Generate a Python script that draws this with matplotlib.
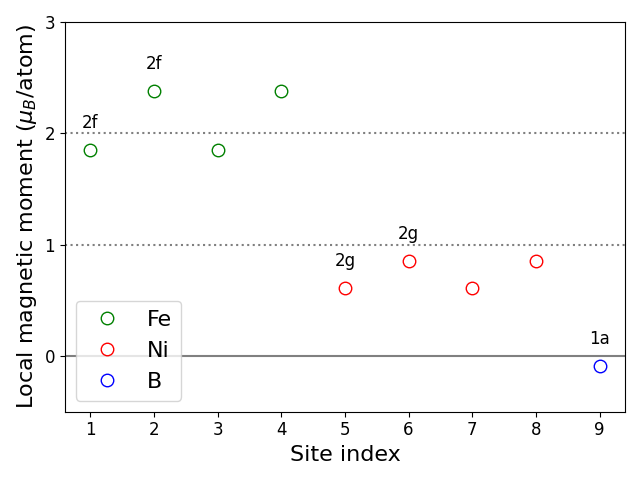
import matplotlib
matplotlib.use("Agg")
import matplotlib.pyplot as plt

fe_x = [1, 2, 3, 4]
fe_y = [1.85, 2.38, 1.85, 2.38]
ni_x = [5, 6, 7, 8]
ni_y = [0.61, 0.85, 0.61, 0.85]
b_x = [9]
b_y = [-0.09]
labels = [(1, 1.85, "2f"), (2, 2.38, "2f"), (5, 0.61, "2g"), (6, 0.85, "2g"), (9, -0.09, "1a")]

fig, ax = plt.subplots(figsize=(6.4, 4.8), dpi=100)
ax.axhline(0, color="gray", lw=1.5)
ax.axhline(1, color="gray", ls=":", lw=1.5)
ax.axhline(2, color="gray", ls=":", lw=1.5)
ax.plot(fe_x, fe_y, "o", mfc="none", mec="green", ms=9, label="Fe")
ax.plot(ni_x, ni_y, "o", mfc="none", mec="red", ms=9, label="Ni")
ax.plot(b_x, b_y, "o", mfc="none", mec="blue", ms=9, label="B")
for x, y, t in labels:
    ax.text(x, y + 0.165, t, ha="center", va="bottom", fontsize=12)
ax.set_ylim(-0.5, 3)
ax.set_yticks([0, 1, 2, 3])
ax.set_xticks(range(1, 10))
ax.tick_params(labelsize=12)
ax.set_xlabel("Site index", fontsize=16)
ax.set_ylabel(r"Local magnetic moment ($\mu_B$/atom)", fontsize=16)
ax.legend(fontsize=16, loc="lower left")
fig.tight_layout()
fig.savefig("out.png")
